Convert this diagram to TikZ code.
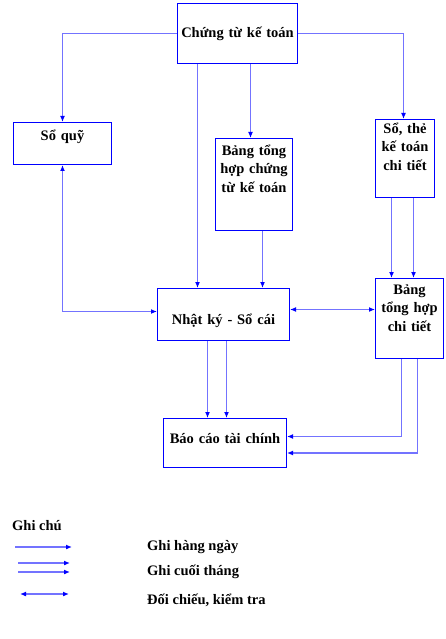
\documentclass[tikz,border=0pt]{standalone}
\usepackage{fontspec}
\setmainfont{Liberation Serif}
\usepackage{tikz}
\usetikzlibrary{arrows.meta,positioning}

\begin{document}
\begin{tikzpicture}[x=1pt,y=-1pt,>={Latex[length=6pt,width=5pt,blue]}]
    \tikzstyle{blk}=[draw=blue,line width=1pt,inner sep=0pt,anchor=north west,align=center,font=\bfseries\fontsize{14.5}{18.5}\selectfont]
    \tikzstyle{flow}=[draw=blue!55,line width=1.3pt,->]
    \tikzstyle{chk}=[draw=blue!55,line width=1.3pt,<->]
    \tikzstyle{note}=[anchor=base west,inner sep=0pt,font=\bfseries\fontsize{14.5}{16}\selectfont]
    \useasboundingbox (0,0) rectangle (446,639);
    % boxes
    \node[blk,text width=120pt,text height=34.5pt,text depth=25.5pt](ct) at (177,3) {Chứng từ kế toán};
    \node[blk,text width=98pt,text height=18pt,text depth=24pt](sq) at (13,122) {Sổ quỹ};
    \node[blk,text width=77pt,text height=17pt,text depth=75pt](bth) at (215,138) {Bảng tổng\\hợp chứng\\từ kế toán};
    \node[blk,text width=59pt,text height=14pt,text depth=64pt](st) at (375,119) {Sổ, thẻ\\kế toán\\chi tiết};
    \node[blk,text width=132pt,text height=36pt,text depth=16pt](nk) at (157,288) {Nhật ký - Sổ cái};
    \node[blk,text width=68pt,text height=15.5pt,text depth=64.5pt](bct) at (375,278) {Bảng\\tổng hợp\\chi tiết};
    \node[blk,text width=123pt,text height=24.5pt,text depth=24.5pt](bc) at (163,418) {Báo cáo tài chính};
    % connectors
    \draw[flow] (ct.west) -| (sq.north);
    \draw[flow] (ct.east) -| ([xshift=-1.5pt]st.north);
    \draw[flow] ([xshift=-3.5pt]ct.south -| bth.north) -- ([xshift=-3.5pt]bth.north);
    \draw[flow] ([xshift=-40pt]ct.south) -- ([xshift=-40pt]ct.south |- nk.north);
    \draw[flow] ([xshift=8.5pt]bth.south) -- ([xshift=8.5pt]bth.south |- nk.north);
    \draw[chk] (sq.south) |- ([yshift=3pt]nk.west);
    \draw[flow] ([xshift=-13.5pt]st.south) -- ([xshift=-13.5pt]st.south |- bct.north);
    \draw[flow] ([xshift=8.5pt]st.south) -- ([xshift=8.5pt]st.south |- bct.north);
    \draw[chk] ([yshift=5pt]nk.east) -- ([yshift=5pt]nk.east -| bct.west);
    \draw[flow] ([xshift=-16pt]nk.south) -- ([xshift=-16pt]nk.south |- bc.north);
    \draw[flow] ([xshift=3pt]nk.south) -- ([xshift=3pt]nk.south |- bc.north);
    \draw[flow] ([xshift=-8pt]bct.south) |- ([yshift=6.5pt]bc.east);
    \draw[flow] ([xshift=8pt]bct.south) |- ([yshift=-10pt]bc.east);
    % legend
    \node[note](ghichu) at (12,530) {Ghi chú};
    \node[note](daily) at (147,550) {Ghi hàng ngày};
    \node[note](monthly) at (147,575) {Ghi cuối tháng};
    \node[note](check) at (147,604) {Đối chiếu, kiểm tra};
    \coordinate (d1) at (15,547);
    \coordinate (d2) at (72,547);
    \coordinate (m1) at (18,563);
    \coordinate (m2) at (70,563);
    \coordinate (m3) at (18,572);
    \coordinate (m4) at (70,572);
    \coordinate (c1) at (20,594);
    \coordinate (c2) at (69,594);
    \draw[flow] (d1) -- (d2);
    \draw[flow] (m1) -- (m2);
    \draw[flow] (m3) -- (m4);
    \draw[chk] (c1) -- (c2);
\end{tikzpicture}
\end{document}
